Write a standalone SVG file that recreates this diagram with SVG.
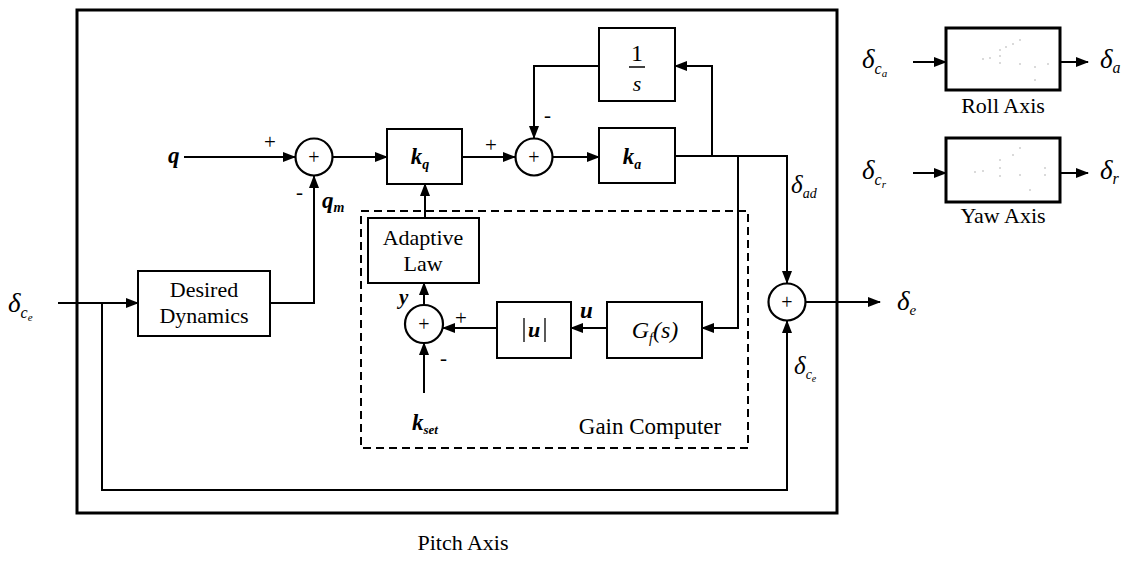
<svg xmlns="http://www.w3.org/2000/svg" width="1143" height="561" viewBox="0 0 1143 561">
<style>
.cn-line{fill:none;stroke:#000;stroke-width:2}
.blk{fill:none;stroke:#000;stroke-width:2}
.sumc{fill:none;stroke:#000;stroke-width:2.2}
.txt-rm{font-family:"Liberation Serif","Times New Roman",serif;font-style:normal;font-weight:normal;font-size:22px;fill:#000}
.txt-mb{font-family:"Liberation Serif","Times New Roman",serif;font-style:italic;font-weight:bold;font-size:23px;fill:#000}
.txt-dl{font-family:"Liberation Serif","Times New Roman",serif;font-style:italic;font-weight:normal;font-size:27px;fill:#000}
.txt-sg{font-family:"Liberation Serif","Times New Roman",serif;font-style:normal;font-size:21px;fill:#000}
.txt-pl{font-family:"Liberation Serif","Times New Roman",serif;font-style:normal;font-size:20px;fill:#000}
.scan-dot{fill:#aaa}
</style>
<defs>
<marker id="ar" markerWidth="13" markerHeight="10" refX="12" refY="5" orient="auto" markerUnits="userSpaceOnUse">
<path d="M0,0 L13,5 L0,10 Z" fill="#000"/>
</marker>
</defs>
<rect x="77" y="10" width="760" height="503" fill="none" stroke="#000" stroke-width="3"/>
<g id="connectors">
<path class="cn-line" d="M184,157 L295,157" marker-end="url(#ar)"/>
<path class="cn-line" d="M333,157 L387,157" marker-end="url(#ar)"/>
<path class="cn-line" d="M462,157 L515,157" marker-end="url(#ar)"/>
<path class="cn-line" d="M553,157 L599,157" marker-end="url(#ar)"/>
<path class="cn-line" d="M675,156 L787,156 L787,283" marker-end="url(#ar)"/>
<path class="cn-line" d="M712,156 L712,66 L675,66" marker-end="url(#ar)"/>
<path class="cn-line" d="M599,66 L534,66 L534,138" marker-end="url(#ar)"/>
<path class="cn-line" d="M738,156 L738,328 L702,328" marker-end="url(#ar)"/>
<path class="cn-line" d="M607,328 L571,328" marker-end="url(#ar)"/>
<path class="cn-line" d="M497,328 L443,328" marker-end="url(#ar)"/>
<path class="cn-line" d="M424,393 L424,343" marker-end="url(#ar)"/>
<path class="cn-line" d="M424,305 L424,283" marker-end="url(#ar)"/>
<path class="cn-line" d="M425,218 L425,184" marker-end="url(#ar)"/>
<path class="cn-line" d="M58,303 L138,303" marker-end="url(#ar)"/>
<path class="cn-line" d="M270,303 L314,303 L314,176" marker-end="url(#ar)"/>
<path class="cn-line" d="M102,303 L102,490 L787,490 L787,321" marker-end="url(#ar)"/>
<path class="cn-line" d="M806,302 L880,302" marker-end="url(#ar)"/>
<path class="cn-line" d="M913,62 L946,62" marker-end="url(#ar)"/>
<path class="cn-line" d="M1060,62 L1088,62" marker-end="url(#ar)"/>
<path class="cn-line" d="M913,173 L946,173" marker-end="url(#ar)"/>
<path class="cn-line" d="M1060,173 L1088,173" marker-end="url(#ar)"/>
</g>
<g id="gain-computer">
<rect x="361" y="211" width="387" height="237" fill="none" stroke="#000" stroke-width="2" stroke-dasharray="8,5"/>
<text class="txt-rm" x="650" y="434" text-anchor="middle" style="font-size:23px">Gain Computer</text>
</g>
<g id="sum1">
<circle class="sumc" cx="314" cy="157" r="18.5"/>
<text class="txt-pl" x="314" y="164" text-anchor="middle">+</text>
</g>
<g id="sum2">
<circle class="sumc" cx="534" cy="157" r="18.5"/>
<text class="txt-pl" x="534" y="164" text-anchor="middle">+</text>
</g>
<g id="sum3">
<circle class="sumc" cx="787" cy="302" r="18.5"/>
<text class="txt-pl" x="787" y="309" text-anchor="middle">+</text>
</g>
<g id="sum4">
<circle class="sumc" cx="424" cy="324" r="19"/>
<text class="txt-pl" x="424" y="331" text-anchor="middle">+</text>
</g>
<g id="kq">
<rect class="blk" x="387" y="129" width="75" height="55"/>
<text class="txt-mb" x="420" y="164" text-anchor="middle">k<tspan style="font-size:14px" dy="5">q</tspan></text>
</g>
<g id="ka">
<rect class="blk" x="599" y="128" width="76" height="55"/>
<text class="txt-mb" x="632" y="164" text-anchor="middle">k<tspan style="font-size:14px" dy="5">a</tspan></text>
</g>
<g id="integrator">
<rect class="blk" x="599" y="28" width="76" height="73"/>
<text class="txt-rm" x="637" y="61" text-anchor="middle" style="font-size:24px">1</text>
<line x1="629" y1="67" x2="645" y2="67" stroke="#000" stroke-width="1.5"/>
<text class="txt-dl" x="637" y="91" text-anchor="middle" style="font-size:22px">s</text>
</g>
<g id="desired-dynamics">
<rect class="blk" x="138" y="271" width="132" height="65"/>
<text class="txt-rm" x="204" y="297" text-anchor="middle">Desired</text>
<text class="txt-rm" x="204" y="323" text-anchor="middle">Dynamics</text>
</g>
<g id="adaptive-law">
<rect class="blk" x="368" y="218" width="111" height="65"/>
<text class="txt-rm" x="423" y="245" text-anchor="middle">Adaptive</text>
<text class="txt-rm" x="423" y="271" text-anchor="middle">Law</text>
</g>
<g id="abs-u">
<rect class="blk" x="497" y="302" width="74" height="56"/>
<line x1="524" y1="318" x2="524" y2="342" stroke="#000" stroke-width="1.3"/>
<line x1="545" y1="318" x2="545" y2="342" stroke="#000" stroke-width="1.3"/>
<text class="txt-mb" x="534" y="337" text-anchor="middle" style="font-size:22px">u</text>
</g>
<g id="gf">
<rect class="blk" x="607" y="302" width="95" height="56"/>
<text class="txt-dl" x="655" y="338" text-anchor="middle" style="font-size:24px">G<tspan style="font-size:14px" dy="5">f</tspan><tspan dy="-5">(s)</tspan></text>
</g>
<g id="roll-axis">
<rect x="946" y="28" width="114" height="62" fill="none" stroke="#000" stroke-width="3"/>
<circle class="scan-dot" cx="983" cy="59" r="0.8"/><circle class="scan-dot" cx="990" cy="58" r="0.8"/><circle class="scan-dot" cx="1000" cy="50" r="0.8"/><circle class="scan-dot" cx="1000" cy="56" r="0.8"/><circle class="scan-dot" cx="1000" cy="63" r="0.8"/><circle class="scan-dot" cx="1006" cy="47" r="0.8"/><circle class="scan-dot" cx="1013" cy="44" r="0.8"/><circle class="scan-dot" cx="1020" cy="40" r="0.8"/><circle class="scan-dot" cx="1020" cy="64" r="0.8"/><circle class="scan-dot" cx="1035" cy="67" r="0.8"/><circle class="scan-dot" cx="1048" cy="64" r="0.8"/><circle class="scan-dot" cx="1035" cy="80" r="0.8"/>
<text class="txt-rm" x="1003" y="113" text-anchor="middle">Roll Axis</text>
</g>
<g id="yaw-axis">
<rect x="946" y="138" width="114" height="64" fill="none" stroke="#000" stroke-width="3"/>
<circle class="scan-dot" cx="975" cy="172" r="0.8"/><circle class="scan-dot" cx="983" cy="171" r="0.8"/><circle class="scan-dot" cx="1000" cy="160" r="0.8"/><circle class="scan-dot" cx="1000" cy="168" r="0.8"/><circle class="scan-dot" cx="1000" cy="176" r="0.8"/><circle class="scan-dot" cx="1013" cy="155" r="0.8"/><circle class="scan-dot" cx="1020" cy="148" r="0.8"/><circle class="scan-dot" cx="1020" cy="175" r="0.8"/><circle class="scan-dot" cx="1045" cy="175" r="0.8"/><circle class="scan-dot" cx="1045" cy="168" r="0.8"/><circle class="scan-dot" cx="1030" cy="190" r="0.8"/>
<text class="txt-rm" x="1003" y="223" text-anchor="middle">Yaw Axis</text>
</g>
<g id="labels">
<text class="txt-mb" x="168" y="163">q</text>
<text class="txt-sg" x="264" y="149">+</text>
<text class="txt-sg" x="296" y="199">-</text>
<text class="txt-mb" x="322" y="208">q<tspan style="font-size:14px" dy="4">m</tspan></text>
<text class="txt-sg" x="485" y="152">+</text>
<text class="txt-sg" x="544" y="122">-</text>
<text class="txt-mb" x="399" y="304" style="font-size:21px">y</text>
<text class="txt-sg" x="455" y="325">+</text>
<text class="txt-sg" x="440" y="365">-</text>
<text class="txt-mb" x="412" y="430">k<tspan style="font-size:13px" dy="4">set</tspan></text>
<text class="txt-mb" x="580" y="318">u</text>
<text class="txt-dl" x="8" y="312">δ<tspan style="font-size:16px" dy="6">c</tspan><tspan style="font-size:11px" dy="3">e</tspan></text>
<text class="txt-dl" x="791" y="193" style="font-size:25px">δ<tspan style="font-size:14px" dy="5">ad</tspan></text>
<text class="txt-dl" x="794" y="374" style="font-size:25px">δ<tspan style="font-size:14px" dy="5">c</tspan><tspan style="font-size:10px" dy="3">e</tspan></text>
<text class="txt-dl" x="897" y="310">δ<tspan style="font-size:15px" dy="5">e</tspan></text>
<text class="txt-dl" x="862" y="68">δ<tspan style="font-size:16px" dy="6">c</tspan><tspan style="font-size:11px" dy="3">a</tspan></text>
<text class="txt-dl" x="1100" y="68">δ<tspan style="font-size:16px" dy="5">a</tspan></text>
<text class="txt-dl" x="862" y="179">δ<tspan style="font-size:16px" dy="6">c</tspan><tspan style="font-size:11px" dy="3">r</tspan></text>
<text class="txt-dl" x="1100" y="179">δ<tspan style="font-size:16px" dy="5">r</tspan></text>
<text class="txt-rm" x="463" y="550" text-anchor="middle">Pitch Axis</text>
</g>
</svg>
